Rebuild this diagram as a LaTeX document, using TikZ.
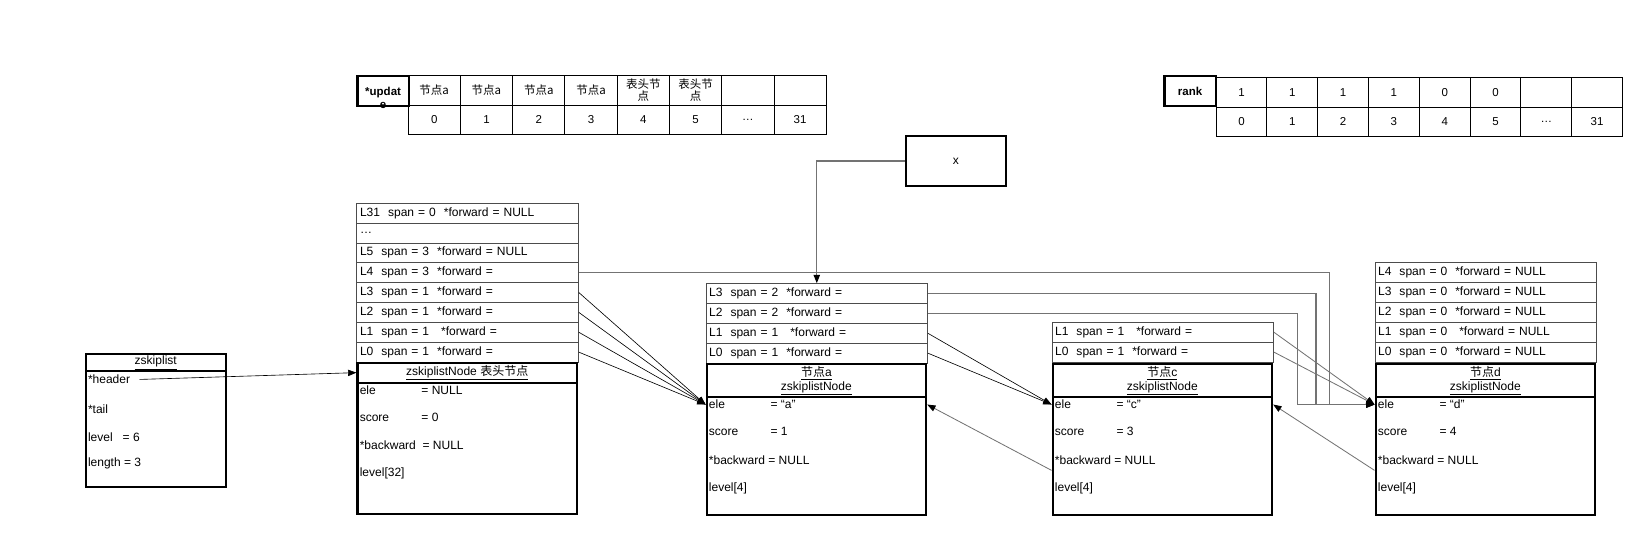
\documentclass[tikz,border=0pt]{standalone}
\usepackage{fontspec}
\setmainfont{Liberation Sans}
\newfontfamily\cjk{Noto Sans CJK SC}
\usetikzlibrary{arrows.meta}

\def\rowh{19}
\newcommand{\fld}[2]{\makebox[59pt][l]{#1}#2}

\begin{document}
\begin{tikzpicture}[x=1pt, y=-1pt, font=\fontsize{11.5}{13}\selectfont]
    \tikzstyle{tabcell}=[draw=black, line width=0.8pt, anchor=north west, minimum width=50pt, minimum height=28pt, inner sep=0pt, align=center, font=\fontsize{11}{12}\selectfont]
    \tikzstyle{tabhead}=[tabcell, line width=2pt, minimum width=49pt]
    \tikzstyle{lvlrow}=[draw=black!70, line width=0.8pt, anchor=north west, text width=206pt, inner xsep=3pt, inner ysep=0pt, minimum height=\rowh pt, align=left]
    \tikzstyle{nodetitle}=[draw=black, line width=2pt, anchor=north west, minimum width=210pt, inner sep=0pt, align=center]
    \tikzstyle{nodebody}=[draw=black, line width=2pt, anchor=north west, minimum width=210pt, inner sep=0pt]
    \tikzstyle{field}=[anchor=west, inner xsep=3pt, inner ysep=0pt]
    \tikzstyle{ptr}=[draw=black, line width=0.6pt, -{Triangle[length=8pt,width=6pt]}]
    \tikzstyle{gptr}=[draw=black!55, line width=1.3pt, -{Triangle[length=8pt,width=6pt,color=black]}]

    \useasboundingbox (0,0) rectangle (1568,510);

    % The *update array
    \node[tabhead] (upd-head) at (341,72) {};
    \node[font=\fontsize{11}{13}\selectfont\bfseries, align=center] (upd-label) at ([yshift=-6.5pt]upd-head.center) {*updat\\e};
    \foreach \txt [count=\i from 0] in {节点a,节点a,节点a,节点a,{表头节\\点},{表头节\\点},{},{}}
        \node[tabcell, font=\fontsize{11}{12}\selectfont\cjk] (upd-t\i) at (390+50*\i,72) {\txt};
    \foreach \txt [count=\i from 0] in {0,1,2,3,4,5,\ldots,31}
        \node[tabcell] (upd-b\i) at (390+50*\i,100) {\txt};

    % The rank array
    \node[tabhead] (rank-head) at (1113,72) {\bfseries rank};
    \foreach \txt [count=\i from 0] in {1,1,1,1,0,0,{},{}}
        \node[tabcell, minimum width=48.6pt] (rank-t\i) at (1163+48.6*\i,74) {\txt};
    \foreach \txt [count=\i from 0] in {0,1,2,3,4,5,\ldots,31}
        \node[tabcell, minimum width=48.6pt] (rank-b\i) at (1163+48.6*\i,102) {\txt};

    % The new node x
    \node[draw=black, line width=2pt, minimum width=95pt, minimum height=48pt, anchor=north west] (newx) at (866,129) {x};

    % The zskiplist struct
    \node[nodetitle, minimum width=134pt, minimum height=16pt] (zsl-title) at (81,338) {\underline{zskiplist}};
    \node[nodebody, minimum width=134pt, minimum height=111pt] (zsl-body) at (81,354) {};
    \node[field] (zsl-header) at (81,363) {*header};
    \node[field] (zsl-tail) at (81,391) {*tail};
    \node[field] (zsl-level) at (81,418) {level\ \ \ = 6};
    \node[field] (zsl-length) at (81,443) {length = 3};

    % The header node
    \foreach \name/\txt [count=\i from 0] in {L31/{L31~ span = 0~ *forward = NULL}, dots/\ldots, L5/{L5~ span = 3~ *forward = NULL}, L4/{L4~ span = 3~ *forward =}, L3/{L3~ span = 1~ *forward =}, L2/{L2~ span = 1~ *forward =}, L1/{L1~ span = 1~~ *forward =}, L0/{L0~ span = 1~ *forward =}}
        \node[lvlrow] (hdr-\name) at (341,194+\rowh*\i) {\txt};
    \node[nodetitle, minimum height=19pt] (hdr-title) at (341,346) {\underline{zskiplistNode {\cjk 表头节点}}};
    \node[nodebody, minimum height=126pt] (hdr-body) at (341,365) {};
    \node[field] (hdr-ele) at (341,373) {\fld{ele}{= NULL}};
    \node[field] (hdr-score) at (341,399) {\fld{score}{= 0}};
    \node[field] (hdr-back) at (341,426) {*backward~ = NULL};
    \node[field] (hdr-level) at (341,453) {level[32]};

    % The level arrays of the nodes a, c and d
    \foreach \name/\txt [count=\i from 0] in {L3/{L3~ span = 2~ *forward =}, L2/{L2~ span = 2~ *forward =}, L1/{L1~ span = 1~~ *forward =}, L0/{L0~ span = 1~ *forward =}}
        \node[lvlrow] (a-\name) at (675,271+\rowh*\i) {\txt};
    \foreach \name/\txt [count=\i from 0] in {L1/{L1~ span = 1~~ *forward =}, L0/{L0~ span = 1~ *forward =}}
        \node[lvlrow] (c-\name) at (1006,308+\rowh*\i) {\txt};
    \foreach \name/\txt [count=\i from 0] in {L4/{L4~ span = 0~ *forward = NULL}, L3/{L3~ span = 0~ *forward = NULL}, L2/{L2~ span = 0~ *forward = NULL}, L1/{L1~ span = 0~~ *forward = NULL}, L0/{L0~ span = 0~ *forward = NULL}}
        \node[lvlrow] (d-\name) at (1315,251+\rowh*\i) {\txt};

    % The bodies of the nodes a, c and d
    \foreach \id/\xpos/\sc in {a/675/1, c/1006/3, d/1315/4} {
        \node[nodetitle, minimum height=32pt] (\id-title) at (\xpos,347) {\underline{{\cjk 节点}\id}\\\underline{zskiplistNode}};
        \node[nodebody, minimum height=113pt] (\id-body) at (\xpos,379) {};
        \node[field] (\id-ele) at (\xpos,387) {\fld{ele}{= “\id”}};
        \node[field] (\id-score) at (\xpos,413) {\fld{score}{= \sc}};
        \node[field] (\id-back) at (\xpos,440) {*backward = NULL};
        \node[field] (\id-level) at (\xpos,467) {level[4]};
    }

    % zskiplist header pointer
    \draw[ptr] ([xshift=6pt]zsl-header.east) -- (hdr-title.west);

    % Forward pointers of the header to node a
    \foreach \lv in {L3,L2,L1,L0}
        \draw[ptr] (hdr-\lv.east) -- (a-ele.west);

    % Forward pointers of node a to node c
    \foreach \lv in {L1,L0}
        \draw[ptr] (a-\lv.east) -- (c-ele.west);

    % Forward pointers of node c to node d
    \foreach \lv in {L1,L0}
        \draw[gptr, line width=0.8pt] (c-\lv.east) -- (d-ele.west);

    % Long forward pointers to node d
    \draw[gptr] (hdr-L4.east) -| ([xshift=-43pt]d-ele.west) -- (d-ele.west);
    \draw[gptr] (a-L3.east) -| ([xshift=-56pt]d-ele.west) -- (d-ele.west);
    \draw[gptr] (a-L2.east) -| ([xshift=-74pt]d-ele.west) -- (d-ele.west);

    % Backward pointers
    \draw[gptr, line width=0.8pt] ([yshift=-10pt]c-back.west) -- (a-ele.west -| a-body.east);
    \draw[gptr, line width=0.8pt] ([yshift=-10pt]d-back.west) -- (c-ele.west -| c-body.east);

    % The new node x goes in above node a
    \draw[gptr] (newx.west) -| (a-L3.north);
\end{tikzpicture}
\end{document}
